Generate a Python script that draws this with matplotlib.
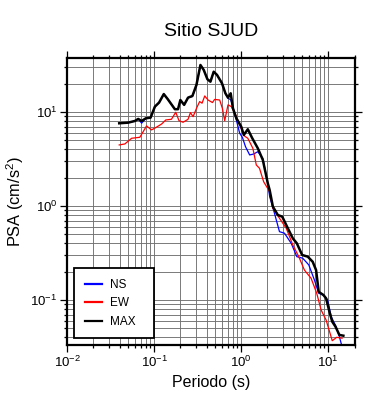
import matplotlib
matplotlib.use("Agg")
import matplotlib.pyplot as plt
import numpy as np

plt.rcParams['font.family'] = ['Liberation Sans', 'DejaVu Sans']
plt.rcParams['mathtext.default'] = 'regular'

# MAX envelope
t_max = [0.0397, 0.0503, 0.0601, 0.0656, 0.0718, 0.0804, 0.0910, 0.102, 0.114,
         0.129, 0.144, 0.173, 0.188, 0.200, 0.221, 0.245, 0.275, 0.306, 0.340,
         0.371, 0.409, 0.443, 0.483, 0.527, 0.601, 0.658, 0.705, 0.757, 0.804,
         0.879, 1.00, 1.07, 1.19, 1.34, 1.55, 1.77, 2.02, 2.12, 2.31, 2.63, 2.96,
         3.43, 3.91, 4.35, 5.01, 5.81, 6.62, 7.24, 7.76, 8.79, 9.44, 10.3, 11.1,
         12.1, 13.4, 14.9]
psa_max = [7.58, 7.70, 8.02, 8.43, 8.02, 8.57, 8.70, 11.4, 12.6, 15.5, 13.6, 10.7,
           10.7, 13.4, 11.9, 14.2, 14.8, 19.4, 31.6, 28.0, 22.3, 21.0, 26.8, 24.8,
           20.2, 15.8, 14.2, 15.8, 10.9, 8.57, 6.98, 5.69, 6.55, 5.25, 4.11, 3.09,
           1.74, 1.48, 0.984, 0.802, 0.769, 0.579, 0.453, 0.401, 0.301, 0.289,
           0.255, 0.208, 0.122, 0.113, 0.104, 0.0751, 0.0588, 0.0520, 0.0425,
           0.0417]

# NS component
t_ns = [0.0397, 0.0503, 0.0601, 0.0656, 0.0718, 0.0804, 0.0910, 0.102, 0.114,
        0.129, 0.144, 0.173, 0.188, 0.200, 0.221, 0.245, 0.275, 0.306, 0.340,
        0.371, 0.409, 0.443, 0.483, 0.527, 0.601, 0.658, 0.705, 0.757, 0.791,
        0.879, 0.960, 1.03, 1.12, 1.25, 1.39, 1.55, 1.77, 2.02, 2.12, 2.41, 2.75,
        3.14, 3.75, 4.35, 5.09, 5.97, 6.93, 7.76, 8.79, 9.84, 10.8, 12.3, 13.4,
        14.4]
psa_ns = [7.58, 7.70, 8.02, 8.43, 7.60, 8.57, 8.70, 11.4, 12.6, 15.5, 13.6, 10.7,
          10.7, 13.4, 11.9, 14.2, 14.6, 19.0, 31.6, 28.0, 22.3, 21.0, 26.8, 24.8,
          20.2, 15.8, 14.0, 13.5, 11.9, 8.22, 5.93, 5.38, 4.27, 3.49, 3.57, 3.78,
          3.22, 1.74, 1.26, 0.836, 0.533, 0.513, 0.401, 0.289, 0.278, 0.236,
          0.163, 0.118, 0.113, 0.100, 0.0664, 0.0520, 0.0407, 0.0318]

# EW component
t_ew = [0.0397, 0.0461, 0.0551, 0.0685, 0.0748, 0.0818, 0.0933, 0.106, 0.122,
        0.136, 0.158, 0.177, 0.193, 0.215, 0.245, 0.261, 0.280, 0.306, 0.333,
        0.355, 0.381, 0.416, 0.467, 0.495, 0.566, 0.608, 0.646, 0.705, 0.771,
        0.863, 0.960, 1.09, 1.19, 1.36, 1.49, 1.62, 1.81, 2.12, 2.31, 2.75, 3.29,
        3.91, 4.58, 5.32, 6.35, 7.36, 8.27, 9.44, 11.1, 12.5, 14.4]
psa_ew = [4.46, 4.57, 5.25, 5.38, 6.17, 7.10, 6.44, 6.88, 7.45, 8.22, 8.36, 9.93,
          8.08, 7.77, 8.36, 9.84, 8.91, 10.9, 12.9, 12.4, 14.8, 13.4, 12.6, 13.6,
          13.4, 10.9, 8.08, 11.9, 11.4, 9.29, 7.27, 5.55, 5.25, 4.11, 2.73, 2.52,
          1.81, 1.42, 0.946, 0.740, 0.579, 0.385, 0.289, 0.208, 0.170, 0.118,
          0.0783, 0.0612, 0.0369, 0.0401, 0.0392]

fig = plt.figure(figsize=(3.9, 4.0), dpi=100)
ax = fig.add_axes([0.172, 0.1375, 0.737, 0.7175])

ax.plot(t_ns, psa_ns, color='blue', lw=0.9, label='NS')
ax.plot(t_ew, psa_ew, color='red', lw=0.9, label='EW')
ax.plot(t_max, psa_max, color='black', lw=1.8, label='MAX')

ax.set_xscale('log')
ax.set_yscale('log')
ax.set_xlim(0.01, 20)
ax.set_ylim(0.0332, 37.5)

ax.grid(True, which='both', color='#707070', lw=0.65)
ax.set_axisbelow(True)
for s in ax.spines.values():
    s.set_linewidth(1.6)
ax.tick_params(which='both', direction='out', top=True, right=True, width=0.9,
               labelsize=9.5, pad=2)
ax.tick_params(which='major', length=5)
ax.tick_params(which='minor', length=2.5)

ax.set_xlabel('Periodo (s)', fontsize=11.5, labelpad=4)
ax.set_ylabel('PSA (cm/s$^{2}$)', fontsize=11.8, labelpad=0)
ax.yaxis.set_label_coords(-0.143, 0.5)
ax.set_title('Sitio SJUD', fontsize=14, pad=16)

leg = ax.legend(loc='lower left', bbox_to_anchor=(0.024, 0.023, 0.277, 0.25),
                mode='expand', borderaxespad=0, fancybox=False, edgecolor='black',
                framealpha=1, fontsize=8.5, handlelength=1.45, handletextpad=0.7,
                labelspacing=0.55, borderpad=0.9)
leg.get_frame().set_linewidth(1.3)
for h in leg.get_lines():
    h.set_linewidth(1.6)

fig.savefig('out.png', dpi=100)
